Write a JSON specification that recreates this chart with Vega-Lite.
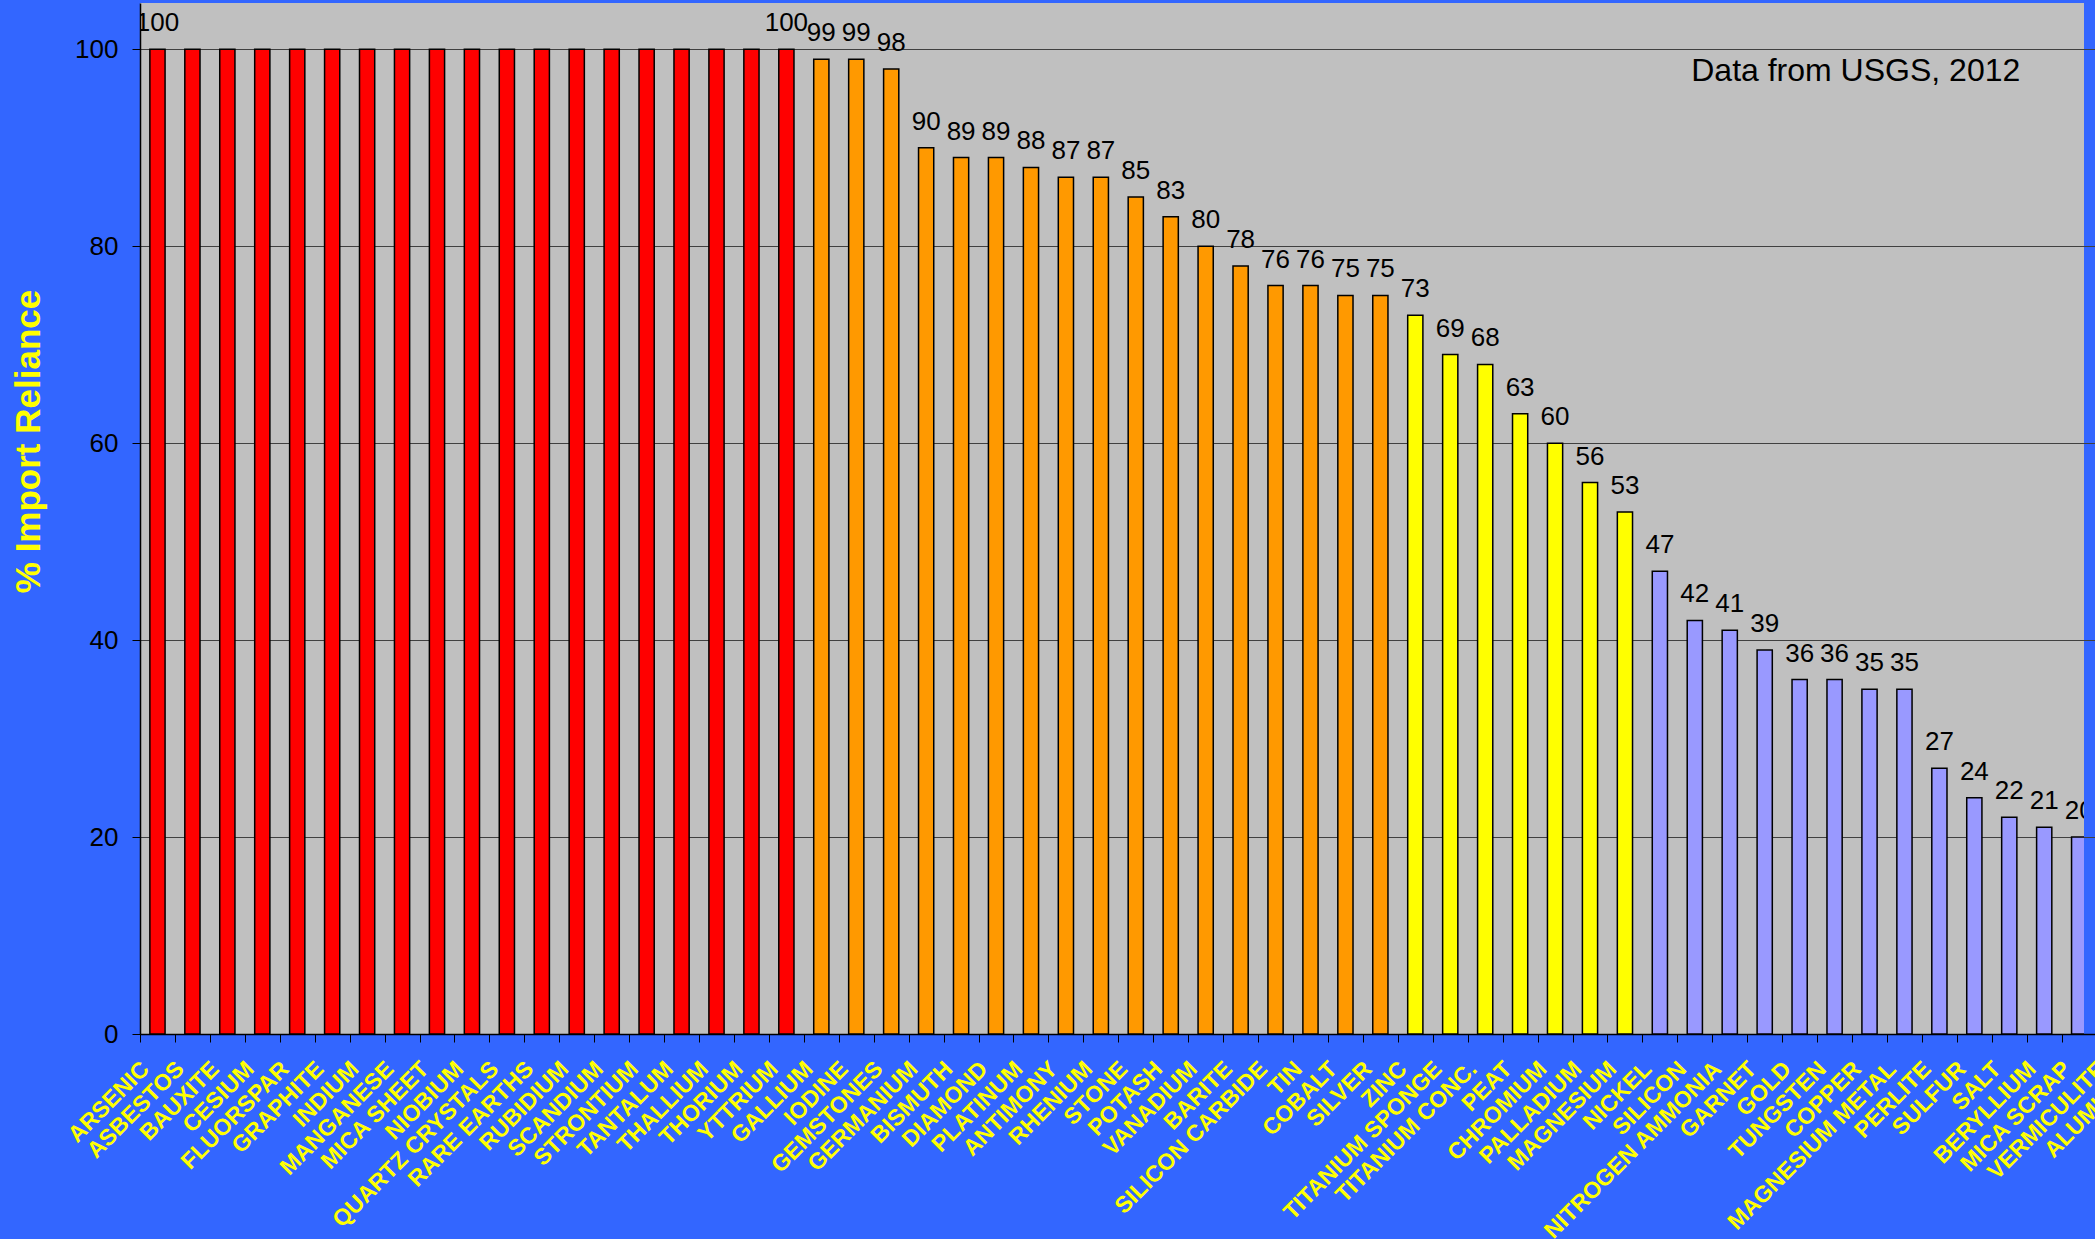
{
  "$schema": "https://vega.github.io/schema/vega-lite/v6.json",
  "autosize": {"type": "none"},
  "padding": {"left": 140, "top": 3, "right": 11, "bottom": 205},
  "width": 1944,
  "height": 1031,
  "background": "#3366FF",
  "config": {"view": {"fill": "#C0C0C0", "stroke": null}, "font": "Liberation Sans"},
  "data": {"values": [
    {"mineral": "ARSENIC", "reliance": 100, "tier": "100%", "labeled": true},
    {"mineral": "ASBESTOS", "reliance": 100, "tier": "100%", "labeled": false},
    {"mineral": "BAUXITE", "reliance": 100, "tier": "100%", "labeled": false},
    {"mineral": "CESIUM", "reliance": 100, "tier": "100%", "labeled": false},
    {"mineral": "FLUORSPAR", "reliance": 100, "tier": "100%", "labeled": false},
    {"mineral": "GRAPHITE", "reliance": 100, "tier": "100%", "labeled": false},
    {"mineral": "INDIUM", "reliance": 100, "tier": "100%", "labeled": false},
    {"mineral": "MANGANESE", "reliance": 100, "tier": "100%", "labeled": false},
    {"mineral": "MICA SHEET", "reliance": 100, "tier": "100%", "labeled": false},
    {"mineral": "NIOBIUM", "reliance": 100, "tier": "100%", "labeled": false},
    {"mineral": "QUARTZ CRYSTALS", "reliance": 100, "tier": "100%", "labeled": false},
    {"mineral": "RARE EARTHS", "reliance": 100, "tier": "100%", "labeled": false},
    {"mineral": "RUBIDIUM", "reliance": 100, "tier": "100%", "labeled": false},
    {"mineral": "SCANDIUM", "reliance": 100, "tier": "100%", "labeled": false},
    {"mineral": "STRONTIUM", "reliance": 100, "tier": "100%", "labeled": false},
    {"mineral": "TANTALUM", "reliance": 100, "tier": "100%", "labeled": false},
    {"mineral": "THALLIUM", "reliance": 100, "tier": "100%", "labeled": false},
    {"mineral": "THORIUM", "reliance": 100, "tier": "100%", "labeled": false},
    {"mineral": "YTTRIUM", "reliance": 100, "tier": "100%", "labeled": true},
    {"mineral": "GALLIUM", "reliance": 99, "tier": "75-99%", "labeled": true},
    {"mineral": "IODINE", "reliance": 99, "tier": "75-99%", "labeled": true},
    {"mineral": "GEMSTONES", "reliance": 98, "tier": "75-99%", "labeled": true},
    {"mineral": "GERMANIUM", "reliance": 90, "tier": "75-99%", "labeled": true},
    {"mineral": "BISMUTH", "reliance": 89, "tier": "75-99%", "labeled": true},
    {"mineral": "DIAMOND", "reliance": 89, "tier": "75-99%", "labeled": true},
    {"mineral": "PLATINUM", "reliance": 88, "tier": "75-99%", "labeled": true},
    {"mineral": "ANTIMONY", "reliance": 87, "tier": "75-99%", "labeled": true},
    {"mineral": "RHENIUM", "reliance": 87, "tier": "75-99%", "labeled": true},
    {"mineral": "STONE", "reliance": 85, "tier": "75-99%", "labeled": true},
    {"mineral": "POTASH", "reliance": 83, "tier": "75-99%", "labeled": true},
    {"mineral": "VANADIUM", "reliance": 80, "tier": "75-99%", "labeled": true},
    {"mineral": "BARITE", "reliance": 78, "tier": "75-99%", "labeled": true},
    {"mineral": "SILICON CARBIDE", "reliance": 76, "tier": "75-99%", "labeled": true},
    {"mineral": "TIN", "reliance": 76, "tier": "75-99%", "labeled": true},
    {"mineral": "COBALT", "reliance": 75, "tier": "75-99%", "labeled": true},
    {"mineral": "SILVER", "reliance": 75, "tier": "75-99%", "labeled": true},
    {"mineral": "ZINC", "reliance": 73, "tier": "50-74%", "labeled": true},
    {"mineral": "TITANIUM SPONGE", "reliance": 69, "tier": "50-74%", "labeled": true},
    {"mineral": "TITANIUM CONC.", "reliance": 68, "tier": "50-74%", "labeled": true},
    {"mineral": "PEAT", "reliance": 63, "tier": "50-74%", "labeled": true},
    {"mineral": "CHROMIUM", "reliance": 60, "tier": "50-74%", "labeled": true},
    {"mineral": "PALLADIUM", "reliance": 56, "tier": "50-74%", "labeled": true},
    {"mineral": "MAGNESIUM", "reliance": 53, "tier": "50-74%", "labeled": true},
    {"mineral": "NICKEL", "reliance": 47, "tier": "<50%", "labeled": true},
    {"mineral": "SILICON", "reliance": 42, "tier": "<50%", "labeled": true},
    {"mineral": "NITROGEN AMMONIA", "reliance": 41, "tier": "<50%", "labeled": true},
    {"mineral": "GARNET", "reliance": 39, "tier": "<50%", "labeled": true},
    {"mineral": "GOLD", "reliance": 36, "tier": "<50%", "labeled": true},
    {"mineral": "TUNGSTEN", "reliance": 36, "tier": "<50%", "labeled": true},
    {"mineral": "COPPER", "reliance": 35, "tier": "<50%", "labeled": true},
    {"mineral": "MAGNESIUM METAL", "reliance": 35, "tier": "<50%", "labeled": true},
    {"mineral": "PERLITE", "reliance": 27, "tier": "<50%", "labeled": true},
    {"mineral": "SULFUR", "reliance": 24, "tier": "<50%", "labeled": true},
    {"mineral": "SALT", "reliance": 22, "tier": "<50%", "labeled": true},
    {"mineral": "BERYLLIUM", "reliance": 21, "tier": "<50%", "labeled": true},
    {"mineral": "MICA SCRAP", "reliance": 20, "tier": "<50%", "labeled": true}
  ]},
  "encoding": {
    "x": {
      "field": "mineral",
      "type": "nominal",
      "scale": {
        "domain": ["ARSENIC", "ASBESTOS", "BAUXITE", "CESIUM", "FLUORSPAR", "GRAPHITE", "INDIUM", "MANGANESE", "MICA SHEET", "NIOBIUM", "QUARTZ CRYSTALS", "RARE EARTHS", "RUBIDIUM", "SCANDIUM", "STRONTIUM", "TANTALUM", "THALLIUM", "THORIUM", "YTTRIUM", "GALLIUM", "IODINE", "GEMSTONES", "GERMANIUM", "BISMUTH", "DIAMOND", "PLATINUM", "ANTIMONY", "RHENIUM", "STONE", "POTASH", "VANADIUM", "BARITE", "SILICON CARBIDE", "TIN", "COBALT", "SILVER", "ZINC", "TITANIUM SPONGE", "TITANIUM CONC.", "PEAT", "CHROMIUM", "PALLADIUM", "MAGNESIUM", "NICKEL", "SILICON", "NITROGEN AMMONIA", "GARNET", "GOLD", "TUNGSTEN", "COPPER", "MAGNESIUM METAL", "PERLITE", "SULFUR", "SALT", "BERYLLIUM", "MICA SCRAP", "VERMICULITE", "ALUMINUM"],
        "range": [0, 2026.5],
        "paddingInner": 0.565,
        "paddingOuter": 0.2825
      },
      "axis": {
        "title": null,
        "labelAngle": -45,
        "labelAlign": "right",
        "labelBaseline": "middle",
        "labelFontWeight": "bold",
        "labelFontSize": 23,
        "labelColor": "#FFFF00",
        "labelPadding": 23,
        "labelOffset": 5,
        "tickOffset": -17.47,
        "tickSize": 8,
        "tickColor": "#000000",
        "domainColor": "#000000",
        "domainWidth": 1.5,
        "labelOverlap": false,
        "labelLimit": 400,
        "labelBound": false,
        "labelFlush": false
      }
    },
    "y": {
      "field": "reliance",
      "type": "quantitative",
      "scale": {"domain": [0, 104.7], "nice": false},
      "axis": {
        "title": "% Import Reliance",
        "titleColor": "#FFFF00",
        "titleFontSize": 35,
        "titleFontWeight": "bold",
        "titleX": -112,
        "titleY": 438,
        "titleAngle": -90,
        "titleAlign": "center",
        "titleBaseline": "middle",
        "values": [0, 20, 40, 60, 80, 100],
        "labelFontSize": 26,
        "labelColor": "#000000",
        "labelPadding": 14,
        "tickSize": 8,
        "tickColor": "#000000",
        "domainColor": "#000000",
        "domainWidth": 1.5,
        "grid": true,
        "gridColor": "#404040",
        "gridWidth": 1
      }
    }
  },
  "layer": [
    {
      "mark": {"type": "bar", "stroke": "#000000", "strokeWidth": 1.5, "clip": true},
      "encoding": {
        "color": {
          "field": "tier",
          "type": "nominal",
          "scale": {"domain": ["100%", "75-99%", "50-74%", "<50%"], "range": ["#FF0000", "#FF9900", "#FFFF00", "#9999FF"]},
          "legend": null
        }
      }
    },
    {
      "transform": [{"filter": "datum.labeled"}],
      "mark": {"type": "text", "fontSize": 26, "dy": -18, "baseline": "alphabetic", "color": "#000000", "clip": true},
      "encoding": {
        "text": {"field": "reliance", "type": "quantitative"}
      }
    },
    {
      "transform": [{"filter": "datum.mineral == 'SALT'"}],
      "mark": {"type": "text", "align": "right", "baseline": "middle", "fontSize": 32, "dx": 11, "color": "#000000"},
      "encoding": {
        "y": {"datum": 97.8, "type": "quantitative"},
        "text": {"value": "Data from USGS, 2012"}
      }
    }
  ]
}
